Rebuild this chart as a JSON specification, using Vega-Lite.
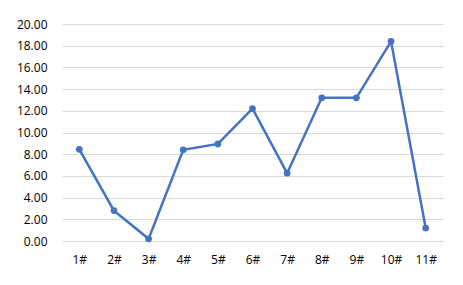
{
  "$schema": "https://vega.github.io/schema/vega-lite/v6.json",
  "width": 381,
  "height": 217,
  "autosize": {"type": "none"},
  "padding": {"left": 62, "top": 24, "right": 20, "bottom": 44},
  "background": "white",
  "config": {
    "view": {"stroke": null},
    "font": "Open Sans",
    "axis": {"labelFont": "Open Sans", "labelFontSize": 12, "labelColor": "#000000", "domain": false, "ticks": false, "tickSize": 0, "title": null}
  },
  "data": {
    "values": [
      {"name": "1#", "value": 8.45},
      {"name": "2#", "value": 2.8},
      {"name": "3#", "value": 0.2},
      {"name": "4#", "value": 8.4},
      {"name": "5#", "value": 8.95},
      {"name": "6#", "value": 12.2},
      {"name": "7#", "value": 6.25},
      {"name": "8#", "value": 13.2},
      {"name": "9#", "value": 13.2},
      {"name": "10#", "value": 18.4},
      {"name": "11#", "value": 1.2}
    ]
  },
  "mark": {"type": "line", "color": "#4472C4", "strokeWidth": 2.5, "point": {"filled": true, "size": 45, "color": "#4472C4"}},
  "encoding": {
    "x": {"field": "name", "type": "ordinal", "sort": null, "scale": {"paddingInner": 0, "paddingOuter": 0.5},
      "axis": {"labelAngle": 0, "labelPadding": 13, "grid": false}},
    "y": {"field": "value", "type": "quantitative", "scale": {"domain": [0, 20], "nice": false},
      "axis": {"values": [0, 2, 4, 6, 8, 10, 12, 14, 16, 18, 20], "format": ".2f", "labelPadding": 15, "grid": true, "gridColor": "#d9d9d9", "gridWidth": 1}}
  }
}
